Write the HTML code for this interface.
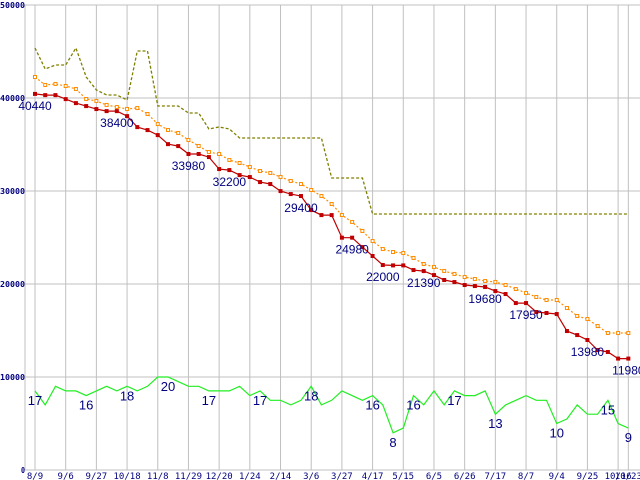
<!DOCTYPE html>
<html><head><meta charset="utf-8"><style>
body{margin:0;background:#fff;}
svg{display:block;}
text{font-family:"DejaVu Sans Mono","Liberation Mono",monospace;}
</style></head><body>
<svg id="chart" width="640" height="480" xmlns="http://www.w3.org/2000/svg"></svg>
<script>
const xLabels=["8/9","9/6","9/27","10/18","11/8","11/29","12/20","1/24","2/14","3/6","3/27","4/17","5/15","6/5","6/26","7/17","8/7","9/4","9/25","10/16","10/23"];
const yTicks=[0,10000,20000,30000,40000,50000];
const redVals=[40440,40310,40310,39880,39450,39130,38810,38590,38590,38050,36870,36550,36010,35040,34830,33980,33980,33650,32360,32250,31710,31500,30960,30750,29990,29670,29460,27950,27410,27410,24980,24980,23970,23010,22040,22000,22000,21500,21390,20960,20430,20210,19890,19780,19680,19240,18920,17950,17950,16990,16880,16770,14940,14510,13980,12900,12690,11980,11980];
const orangeVals=[42260,41400,41510,41290,40970,39890,39680,39250,39030,38820,38920,38280,37200,36560,36240,35480,34840,34190,33980,33330,33010,32580,32150,31940,31510,31080,30750,30110,29460,28600,27420,26670,25700,24620,23760,23440,23330,22800,22150,21830,21400,21080,20750,20540,20320,20220,19890,19460,19030,18600,18280,18280,17420,16560,16240,15480,14730,14730,14730];
const oliveVals=[45380,43120,43550,43550,45380,42260,40860,40320,40320,39780,45050,45050,39140,39140,39140,38390,38390,36670,36880,36670,35700,35700,35700,35700,35700,35700,35700,35700,35700,31400,31400,31400,31400,27530,27530,27530,27530,27530,27530,27530,27530,27530,27530,27530,27530,27530,27530,27530,27530,27530,27530,27530,27530,27530,27530,27530,27530,27530,27530];
const greenCounts=[17,14,18,17,17,16,17,18,17,18,17,18,20,20,19,18,18,17,17,17,18,16,17,15,15,14,15,18,14,15,17,16,15,16,14,8,9,16,14,17,14,17,16,16,17,12,14,15,16,15,15,10,11,14,12,12,15,10,9];
const redLabels=[[0,"40440"],[8,"38400"],[15,"33980"],[19,"32200"],[26,"29400"],[31,"24980"],[34,"22000"],[38,"21390"],[44,"19680"],[48,"17950"],[54,"13980"],[58,"11980"]];
const greenLabels=[[0,"17"],[5,"16"],[9,"18"],[13,"20"],[17,"17"],[22,"17"],[27,"18"],[33,"16"],[35,"8"],[37,"16"],[41,"17"],[45,"13"],[51,"10"],[56,"15"],[58,"9"]];

const svg=document.getElementById('chart');
const NS="http://www.w3.org/2000/svg";
const X0=35,DX=10.23,Y0=470,SY=465/50000;
const xs=i=>X0+i*DX;
const ys=v=>Y0-v*SY;
function mk(t,a){const e=document.createElementNS(NS,t);for(const k in a)e.setAttribute(k,a[k]);svg.appendChild(e);return e;}

yTicks.forEach(v=>{
  const l=mk('line',{x1:25,x2:640,y1:ys(v),y2:ys(v),stroke:'#c0c0c0','stroke-width':1});
  
  
  const t=mk('text',{x:v===0?21:0,y:ys(v)+3,'font-size':8,fill:'#000080','font-weight':'bold','textLength':v===0?4:25,'lengthAdjust':'spacingAndGlyphs'});
  t.textContent=String(v);
  
  
});
const axis=mk('line',{x1:25,x2:25,y1:5,y2:470,stroke:'#c0c0c0','stroke-width':1});


xLabels.forEach((lab,k)=>{
  const i=k<20?k*3:58;
  const l=mk('line',{x1:xs(i),x2:xs(i),y1:5,y2:470,stroke:'#c0c0c0','stroke-width':1});
  
  
  const t=mk('text',{x:xs(i),y:479,'text-anchor':'middle','font-size':9,fill:'#000080'});
  t.textContent=lab;
  
  
});

function line(vals,f,attrs,name){
  const p=vals.map((v,i)=>xs(i).toFixed(1)+','+ys(f(v)).toFixed(1)).join(' ');
  const e=mk('polyline',Object.assign({points:p,fill:'none'},attrs));
  
  
}
line(oliveVals,v=>v,{stroke:'#808000','stroke-width':1.3,'stroke-dasharray':'3,2'},'max-price-line');
line(greenCounts,c=>c*500,{stroke:'#22ee22','stroke-width':1.2},'count-line');
line(orangeVals,v=>v,{stroke:'#ff8c00','stroke-width':1.2,'stroke-dasharray':'2,2'},'avg-price-line');
orangeVals.forEach((v,i)=>{
  const r=mk('rect',{x:xs(i)-1.5,y:ys(v)-1.5,width:3,height:3,fill:'#fff',stroke:'#ff8c00','stroke-width':1});
  
  
});
line(redVals,v=>v,{stroke:'#c00000','stroke-width':1.2},'min-price-line');
redVals.forEach((v,i)=>{
  const r=mk('rect',{x:xs(i)-2,y:ys(v)-2,width:4,height:4,fill:'#c00000'});
  
  
});
redLabels.forEach(([i,s])=>{
  const t=mk('text',{x:xs(i),y:ys(redVals[i])+16,'text-anchor':'middle','font-size':12,fill:'#000080',style:'font-family:"Liberation Sans",sans-serif'});
  t.textContent=s;
  
  
});
greenLabels.forEach(([i,s])=>{
  const t=mk('text',{x:xs(i),y:ys(greenCounts[i]*500)+14,'text-anchor':'middle','font-size':13,fill:'#000080',style:'font-family:"Liberation Sans",sans-serif'});
  t.textContent=s;
  
  
});
</script>
</body></html>
